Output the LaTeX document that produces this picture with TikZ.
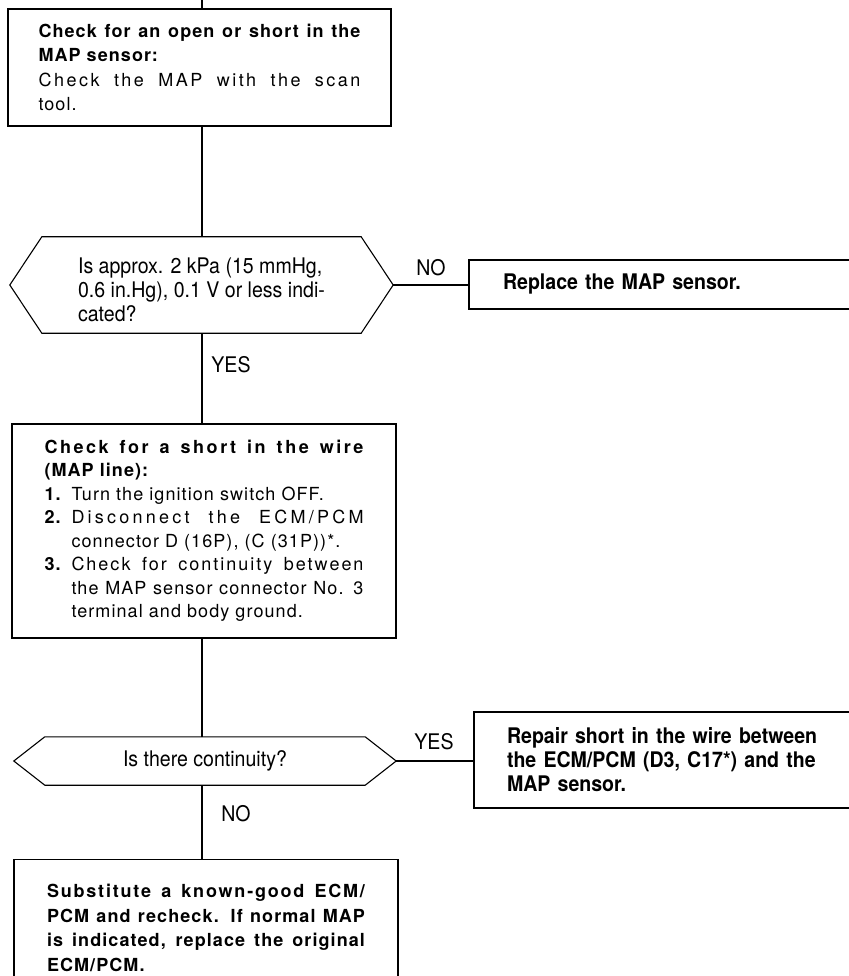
\documentclass[tikz,border=0pt]{standalone}
\usepackage{fontspec}
\setmainfont{TeX Gyre Heros}
\newfontfamily\boxfont{TeX Gyre Heros}[LetterSpace=6]
\newfontfamily\narrowfont{TeX Gyre Heros}[FakeStretch=0.91]
\newcommand\stepitem[1]{\par\noindent\hangindent=27pt\hangafter=1\makebox[27pt][l]{\bfseries #1}}
\newcommand\spaced[2]{{\addfontfeatures{LetterSpace=#1}#2}}
\begin{document}
\begin{tikzpicture}[x=1pt,y=-1pt,
  boxtxt/.style={font=\boxfont\fontsize{18}{24.5}\selectfont},
  narrowtxt/.style={font=\narrowfont\fontsize{21.5}{24}\selectfont},
  box/.style={draw, line width=1.1pt, inner sep=0pt},
  lbl/.style={inner sep=0pt, narrowtxt},
  conn/.style={line width=1.1pt},
  hexa/.style={line width=1.1pt}]
\useasboundingbox (0,0) rectangle (848,976);

% boxes
\node[box, boxtxt, minimum width=383pt, minimum height=117pt, text width=322pt, align=justify] (b1) at (199.5,67.5)
  {\bfseries Check for an open or short in the\linebreak MAP sensor:\\ \mdseries \spaced{14}{Check the MAP with the scan}\linebreak tool.};

\node[lbl, minimum width=383pt, minimum height=96pt, align=left] (d1) at (201.5,285)
  {\rule{0pt}{26pt}Is approx. 2 kPa (15 mmHg,\\0.6 in.Hg), 0.1 V or less indi-\\cated?};
\draw[hexa] ([xshift=32pt]d1.north west) -- ([xshift=-32pt]d1.north east) -- (d1.east)
  -- ([xshift=-32pt]d1.south east) -- ([xshift=32pt]d1.south west) -- (d1.west) -- cycle;

\node[box, narrowtxt, minimum width=383pt, minimum height=49pt, text width=315pt, align=left] (b2) at (660.5,284.5)
  {\bfseries Replace the MAP sensor.};

\node[box, boxtxt, minimum width=384pt, minimum height=214pt, text width=319pt, align=justify] (b3) at (204,531)
  {\fontsize{18}{23.5}\selectfont
   \bfseries \spaced{14}{Check for a short in the wire}\linebreak (MAP line):\mdseries
   \stepitem{1.}Turn the ignition switch OFF.
   \stepitem{2.}\spaced{18}{Disconnect the ECM/PCM}\linebreak connector D (16P), (C (31P))*.
   \stepitem{3.}\spaced{11}{Check for continuity between}\linebreak the MAP sensor connector No. 3\linebreak terminal and body ground.\par};

\node[lbl, minimum width=382pt, minimum height=48pt] (d2) at (205,761) {Is there continuity?};
\draw[hexa] ([xshift=31pt]d2.north west) -- ([xshift=-31pt]d2.north east) -- (d2.east)
  -- ([xshift=-31pt]d2.south east) -- ([xshift=31pt]d2.south west) -- (d2.west) -- cycle;

\node[box, narrowtxt, minimum width=378pt, minimum height=96pt, text width=312pt, align=left] (b4) at (663,760)
  {\bfseries Repair short in the wire between\\the ECM/PCM (D3, C17*) and the\\MAP sensor.};

\node[box, boxtxt, anchor=north, inner ysep=25pt, minimum width=384pt, text width=318pt, align=justify] (b5) at (206,859)
  {\fontsize{18}{23}\selectfont\bfseries \spaced{10}{Substitute a known-good ECM/}\linebreak PCM and recheck. If normal MAP\linebreak is indicated, replace the original\linebreak ECM/PCM.};

% labels
\node[lbl] (no1) at (431,268) {NO};
\node[lbl] (yes1) at (231,365) {YES};
\node[lbl] (yes2) at (434,742) {YES};
\node[lbl] (no2) at (236,814) {NO};

% connectors
\coordinate (top) at (202,0);
\draw[conn] (top) -- (top |- b1.north);
\draw[conn] (top |- b1.south) -- (top |- d1.north);
\draw[conn] (top |- d1.south) -- (top |- b3.north);
\draw[conn] (top |- b3.south) -- (top |- d2.north);
\draw[conn] (top |- d2.south) -- (top |- b5.north);
\draw[conn] (d1.east) -- (d1.east -| b2.west);
\draw[conn] (d2.east) -- (d2.east -| b4.west);
\end{tikzpicture}
\end{document}
